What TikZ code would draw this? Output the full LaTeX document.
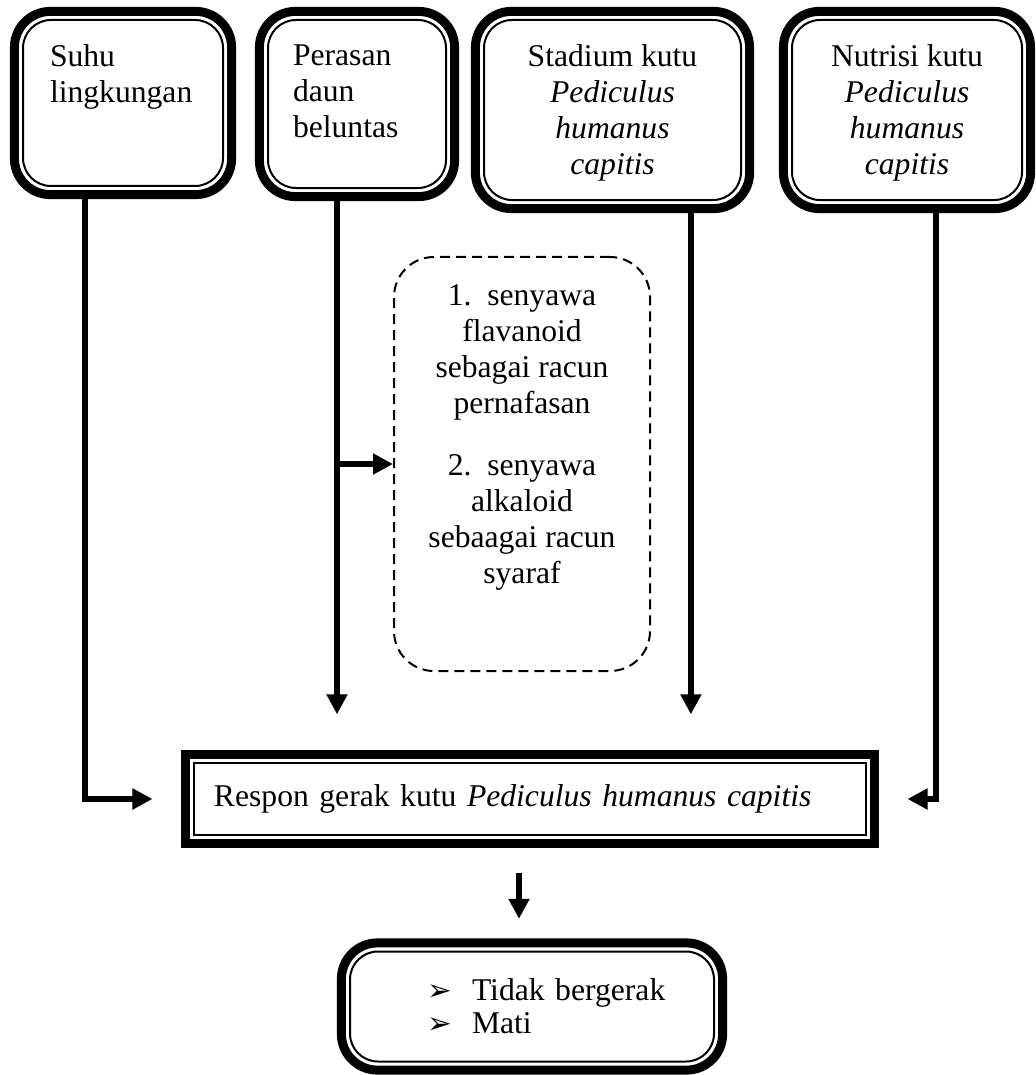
\documentclass[tikz,border=0pt]{standalone}
\usepackage{fontspec}
\setmainfont{Liberation Serif}
\newfontfamily\symfont{DejaVu Sans}
\usetikzlibrary{arrows.meta,positioning,fit,calc}

\begin{document}
\begin{tikzpicture}[
  x=0.25mm, y=-0.25mm,
  every node/.style={font=\fontsize{22.5}{25.6}\selectfont},
  inbox/.style={draw,line width=0.5mm,rounded corners=7mm,inner xsep=2.5mm,
                inner ysep=6.25mm,anchor=north west},
  outbox/.style={draw,line width=2.25mm,rounded corners=9mm,inner sep=1.9mm},
  dashbox/.style={draw,dash pattern=on 2.5mm off 1.5mm,line width=0.5mm,
                  rounded corners=10mm,inner xsep=4.5mm,inner ysep=7mm,anchor=north west},
  conn/.style={line width=1.5mm,-{Triangle[length=5mm,width=5mm]}},
]
  \useasboundingbox (0,0) rectangle (1035,1075);

  % Faktor (atas)
  \node[inbox,inner xsep=6.75mm] (suhu) at (22,19)
    {\parbox[c][29mm][t]{36.5mm}{\raggedright Suhu\\lingkungan}};
  \node[inbox,inner xsep=6.25mm] (peras) at (267,19)
    {\parbox[c][29.5mm][t]{32mm}{\raggedright Perasan\\daun\\beluntas}};
  \node[inbox] (stad) at (483,19)
    {\parbox[c][32.5mm][t]{59.25mm}{\centering Stadium kutu\\\textit{Pediculus}\\\textit{humanus}\\\textit{capitis}}};
  \node[inbox] (nutri) at (791,19)
    {\parbox[c][32.5mm][t]{52.5mm}{\centering Nutrisi kutu\\\textit{Pediculus}\\\textit{humanus}\\\textit{capitis}}};

  \node[outbox,fit=(suhu)] (suhuF) {};
  \node[outbox,fit=(peras)] (perasF) {};
  \node[outbox,fit=(stad)] (stadF) {};
  \node[outbox,fit=(nutri)] (nutriF) {};

  % Kandungan senyawa
  \node[dashbox] (zat) at (393,256)
    {\parbox[c][89.5mm][t]{55mm}{\centering 1.\hspace{0.5em}senyawa\\flavanoid\\sebagai racun\\pernafasan\\[6.5mm]
     2.\hspace{0.5em}senyawa\\alkaloid\\sebaagai racun\\syaraf}};

  % Respon
  \node[draw,line width=0.5mm,minimum width=168mm,minimum height=18mm,
        text width=158mm,inner xsep=5mm,align=left] (respon) at (530,799)
    {Respon gerak kutu \textit{Pediculus humanus capitis}};
  \node[outbox,sharp corners,fit=(respon)] (responF) {};

  % Hasil
  \node[draw,line width=0.5mm,rounded corners=7mm,minimum width=91mm,minimum height=27.5mm,
        text width=70mm,inner sep=0pt,align=left,font=\fontsize{22.5}{23.4}\selectfont] (hasil) at (532,1006.5)
    {\hspace*{8.75mm}\makebox[11.25mm][l]{\symfont\fontsize{21}{23}\selectfont ➢}Tidak bergerak\\
     \hspace*{8.75mm}\makebox[11.25mm][l]{\symfont\fontsize{21}{23}\selectfont ➢}Mati};
  \node[outbox,fit=(hasil)] (hasilF) {};

  % Arrows
  \coordinate (sLine) at ([xshift=-9.4mm]suhuF.south);
  \coordinate (pLine) at ([xshift=-5mm]perasF.south);
  \coordinate (tLine) at ([xshift=19.6mm]stadF.south);
  \coordinate (nLine) at ([xshift=7.25mm]nutriF.south);

  \draw[conn,shorten >=7.1mm] (sLine) |- (responF.west);
  \draw[conn,shorten >=8.9mm] (pLine) -- (pLine |- responF.north);
  \draw[conn] (pLine |- zat.west) -- (zat.west);
  \draw[conn,shorten >=8.9mm] (tLine) -- (tLine |- responF.north);
  \draw[conn,shorten >=7.1mm] (nLine) |- (responF.east);
  \draw[conn,shorten <=6.1mm,shorten >=4.9mm] ([xshift=-2.75mm]responF.south)
    -- ([xshift=-2.75mm]responF.south |- hasilF.north);
\end{tikzpicture}
\end{document}
